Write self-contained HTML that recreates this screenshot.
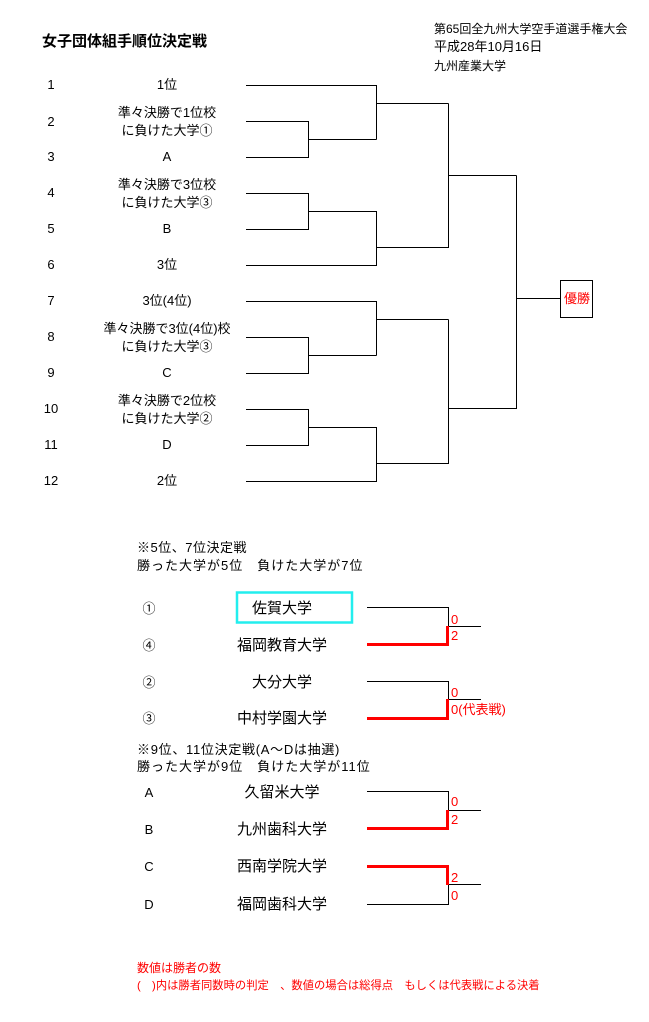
<!DOCTYPE html>
<html><head><meta charset="utf-8"><style>
html,body{margin:0;padding:0;background:#fff;}
svg{display:block}
text{font-family:"Liberation Sans","Noto Sans CJK JP",sans-serif;font-size:13px;fill:#000}
.r{fill:#f00}
</style></head><body>
<svg width="649" height="1022" viewBox="0 0 649 1022" xmlns="http://www.w3.org/2000/svg">
<text x="42" y="46" style="font-size:15px;font-weight:bold">女子団体組手順位決定戦</text>
<text x="434" y="33" style="font-size:12px">第65回全九州大学空手道選手権大会</text>
<text x="434" y="51">平成28年10月16日</text>
<text x="434" y="70" style="font-size:12px">九州産業大学</text>
<g text-anchor="middle">
<text x="51" y="89">1</text><text x="167" y="89">1位</text>
<text x="51" y="126">2</text><text x="167" y="117">準々決勝で1位校</text><text x="167" y="135">に負けた大学①</text>
<text x="51" y="161">3</text><text x="167" y="161">A</text>
<text x="51" y="197">4</text><text x="167" y="189">準々決勝で3位校</text><text x="167" y="207">に負けた大学③</text>
<text x="51" y="233">5</text><text x="167" y="233">B</text>
<text x="51" y="269">6</text><text x="167" y="269">3位</text>
<text x="51" y="305">7</text><text x="167" y="305">3位(4位)</text>
<text x="51" y="341">8</text><text x="167" y="333">準々決勝で3位(4位)校</text><text x="167" y="351">に負けた大学③</text>
<text x="51" y="377">9</text><text x="167" y="377">C</text>
<text x="51" y="413">10</text><text x="167" y="405">準々決勝で2位校</text><text x="167" y="423">に負けた大学②</text>
<text x="51" y="449">11</text><text x="167" y="449">D</text>
<text x="51" y="485">12</text><text x="167" y="485">2位</text>
</g>
<g stroke="#000" stroke-width="1" fill="none">
<path d="M246 85.5H376.5V139.5M246 121.5H308.5V157.5H246M308.5 139.5H376.5M376.5 139.5V103.5H448.5"/>
<path d="M246 193.5H308.5V229.5H246M308.5 211.5H376.5V265.5H246M376.5 247.5H448.5V103.5M448.5 175.5H516.5"/>
<path d="M246 301.5H376.5V355.5M246 337.5H308.5V373.5H246M308.5 355.5H376.5M376.5 319.5H448.5"/>
<path d="M246 409.5H308.5V445.5H246M308.5 427.5H376.5V481.5H246M376.5 463.5H448.5V319.5M448.5 408.5H516.5V175.5M516.5 298.5H560"/>
<rect x="560.5" y="280.5" width="32" height="37"/>
</g>
<text x="564" y="303" class="r">優勝</text>
<text x="137" y="552" style="letter-spacing:0.5px">※5位、7位決定戦</text>
<text x="137" y="570" style="letter-spacing:1px">勝った大学が5位　負けた大学が7位</text>
<g text-anchor="middle">
<text x="149" y="613">①</text><text x="149" y="650">④</text><text x="149" y="687">②</text><text x="149" y="723">③</text>
<text x="282" y="613" style="font-size:15px">佐賀大学</text>
<text x="282" y="650" style="font-size:15px">福岡教育大学</text>
<text x="282" y="687" style="font-size:15px">大分大学</text>
<text x="282" y="723" style="font-size:15px">中村学園大学</text>
<text x="149" y="797">A</text><text x="149" y="834">B</text><text x="149" y="871">C</text><text x="149" y="909">D</text>
<text x="282" y="797" style="font-size:15px">久留米大学</text>
<text x="282" y="834" style="font-size:15px">九州歯科大学</text>
<text x="282" y="871" style="font-size:15px">西南学院大学</text>
<text x="282" y="909" style="font-size:15px">福岡歯科大学</text>
</g>
<rect x="237" y="592.5" width="115" height="30" fill="none" stroke="#2ee" stroke-width="2.5"/>
<g stroke="#000" stroke-width="1" fill="none">
<path d="M367 607.5H448.5V626M448 626.5H481"/>
<path d="M367 681.5H448.5V699M448 699.5H481"/>
<path d="M367 791.5H448.5V810M448 810.5H481"/>
<path d="M367 904.5H448.5V885M448 884.5H481"/>
</g>
<g stroke="#f00" stroke-width="3" fill="none">
<path d="M367 644.5H447.5V626"/>
<path d="M367 718.5H447.5V699"/>
<path d="M367 828.5H447.5V810"/>
<path d="M367 866.5H447.5V885"/>
</g>
<g class="r" style="font-size:12px">
<text x="451" y="624" class="r">0</text><text x="451" y="640" class="r">2</text>
<text x="451" y="697" class="r">0</text><text x="451" y="714" class="r">0(代表戦)</text>
<text x="451" y="806" class="r">0</text><text x="451" y="824" class="r">2</text>
<text x="451" y="882" class="r">2</text><text x="451" y="900" class="r">0</text>
</g>
<text x="137" y="754" style="letter-spacing:0.7px">※9位、11位決定戦(A～Dは抽選)</text>
<text x="137" y="771" style="letter-spacing:1px">勝った大学が9位　負けた大学が11位</text>
<text x="137" y="972" class="r" style="font-size:12px">数値は勝者の数</text>
<text x="137" y="989" class="r" style="font-size:11.3px">(　)内は勝者同数時の判定　、数値の場合は総得点　もしくは代表戦による決着</text>
</svg>
</body></html>
